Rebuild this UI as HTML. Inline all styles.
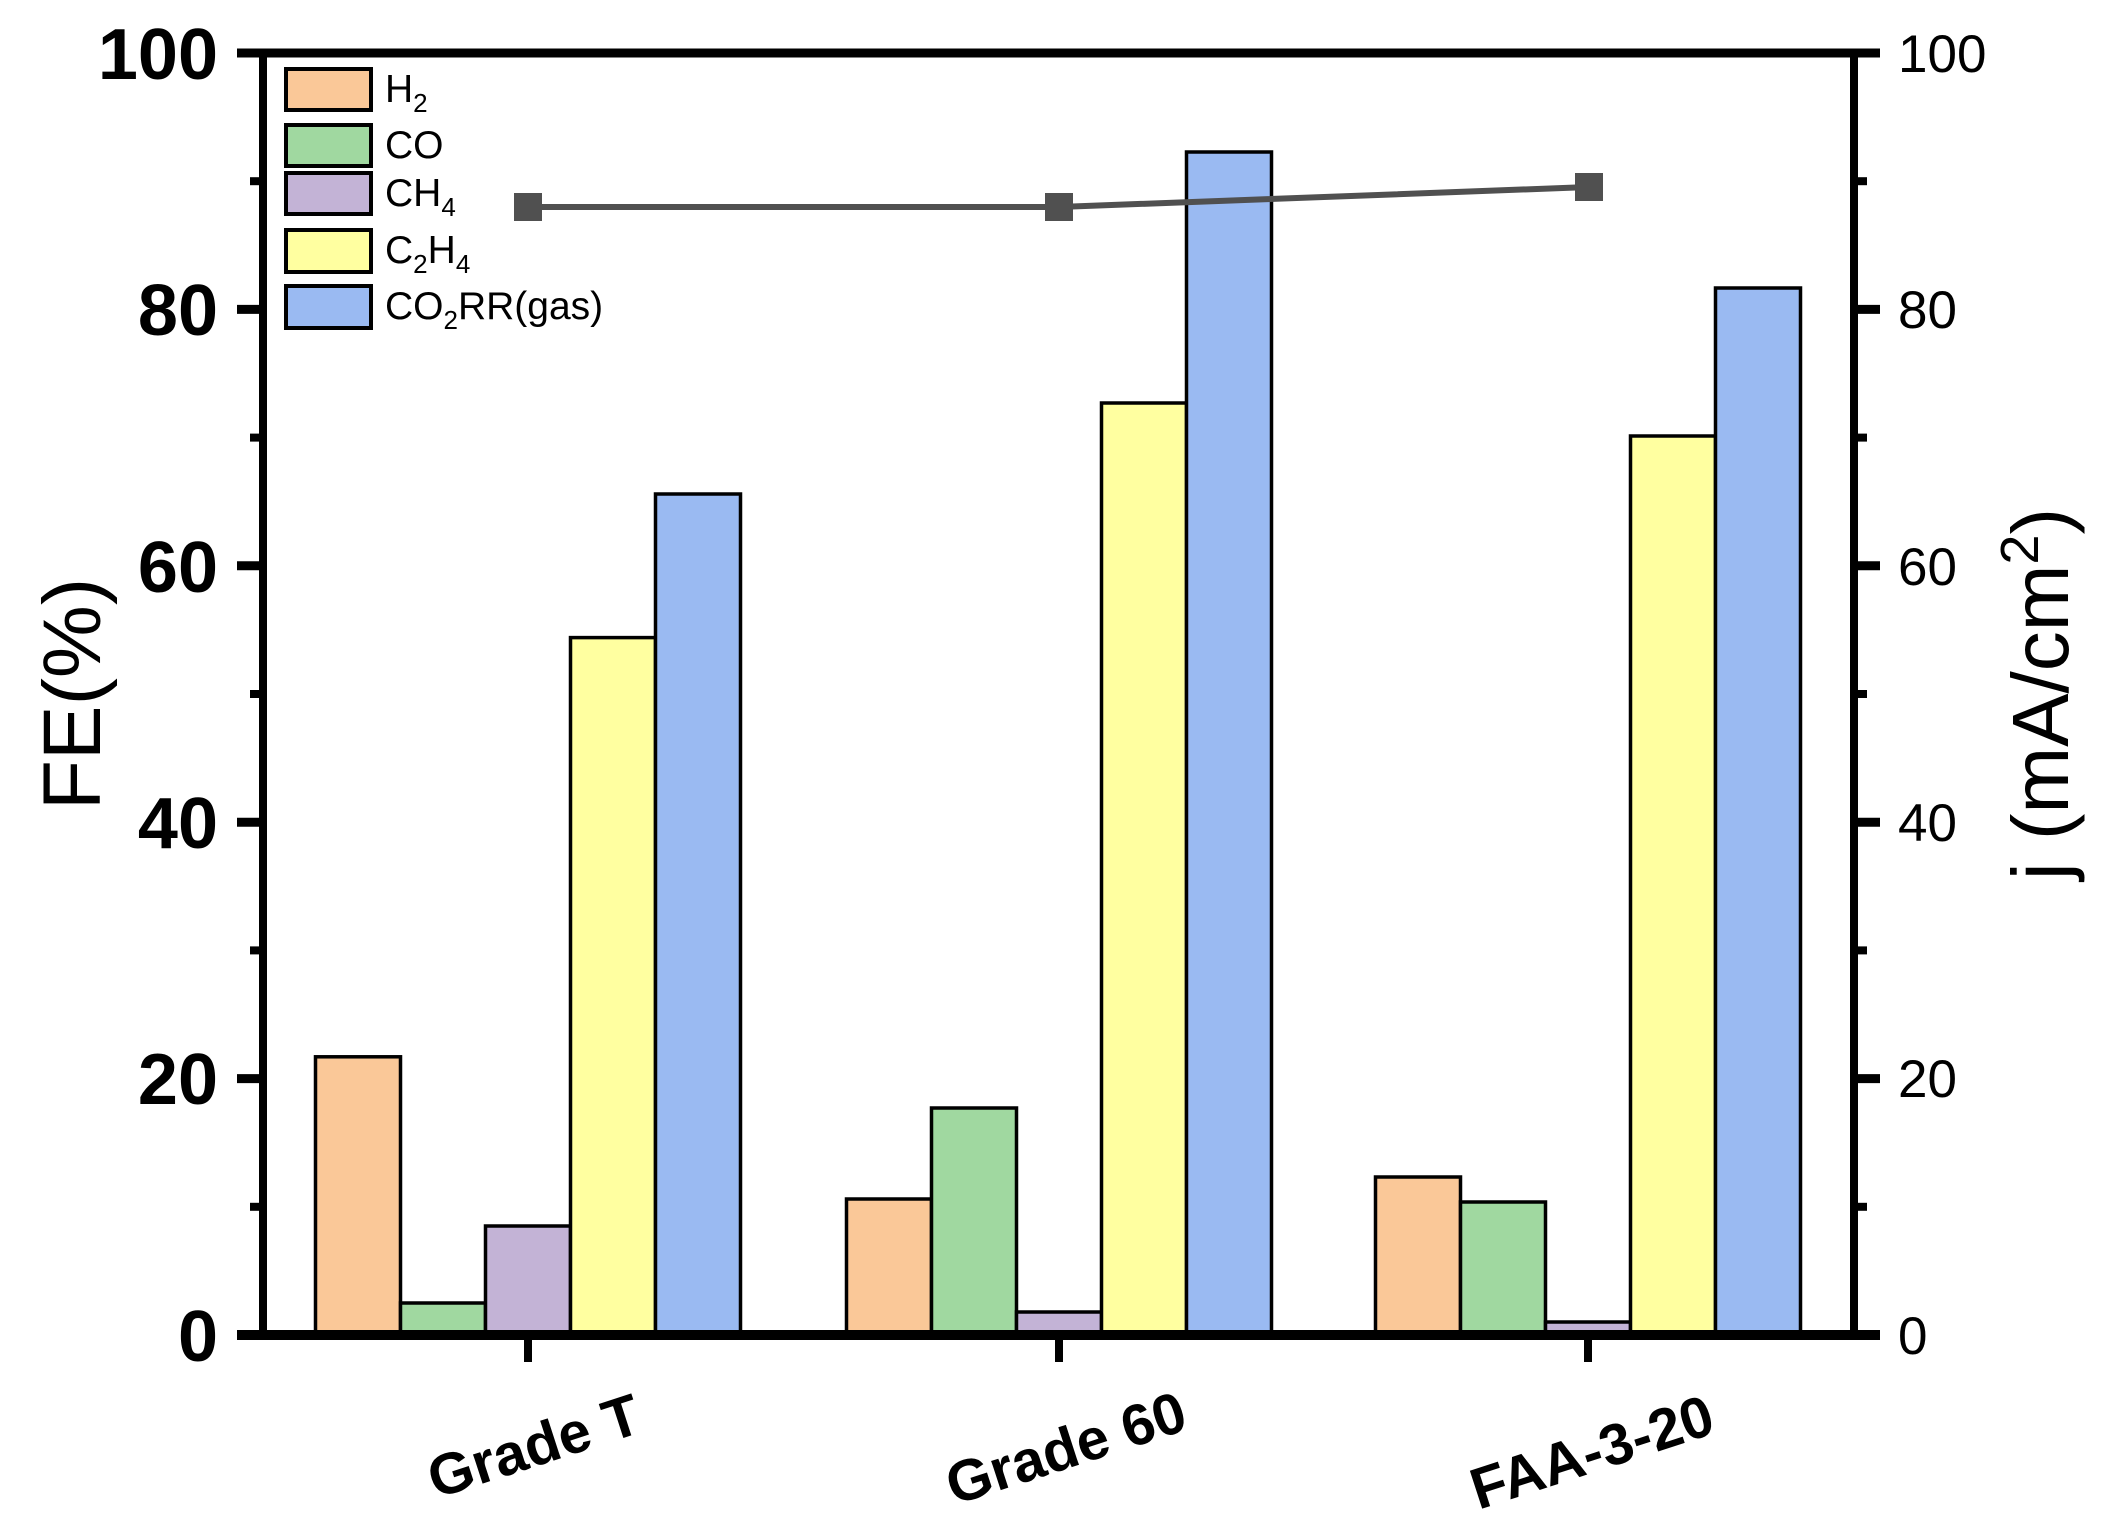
<!DOCTYPE html>
<html><head><meta charset="utf-8"><style>html,body{margin:0;padding:0;background:#fff}svg{display:block}</style></head>
<body>
<svg width="2102" height="1517" viewBox="0 0 2102 1517" xmlns="http://www.w3.org/2000/svg" font-family="'Liberation Sans', Arial, sans-serif">
<rect width="2102" height="1517" fill="#fff"/>
<g stroke="#000" stroke-width="3.5">
<rect x="315.5" y="1056.8" width="85" height="278.2" fill="#FAC898"/>
<rect x="400.5" y="1303" width="85" height="32" fill="#A0D8A0"/>
<rect x="485.5" y="1226" width="85" height="109" fill="#C3B3D6"/>
<rect x="570.5" y="637.6" width="85" height="697.4" fill="#FFFFA0"/>
<rect x="655.5" y="494" width="85" height="841" fill="#9ABAF2"/>
<rect x="846.5" y="1199" width="85" height="136" fill="#FAC898"/>
<rect x="931.5" y="1108" width="85" height="227" fill="#A0D8A0"/>
<rect x="1016.5" y="1312" width="85" height="23" fill="#C3B3D6"/>
<rect x="1101.5" y="403" width="85" height="932" fill="#FFFFA0"/>
<rect x="1186.5" y="152" width="85" height="1183" fill="#9ABAF2"/>
<rect x="1375.5" y="1177" width="85" height="158" fill="#FAC898"/>
<rect x="1460.5" y="1202" width="85" height="133" fill="#A0D8A0"/>
<rect x="1545.5" y="1322" width="85" height="13" fill="#C3B3D6"/>
<rect x="1630.5" y="436" width="85" height="899" fill="#FFFFA0"/>
<rect x="1715.5" y="288" width="85" height="1047" fill="#9ABAF2"/>
</g>
<polyline points="528,207 1059,207 1589,187" fill="none" stroke="#505050" stroke-width="6"/>
<rect x="514" y="193" width="28" height="28" fill="#505050"/>
<rect x="1045" y="193" width="28" height="28" fill="#505050"/>
<rect x="1575" y="173" width="28" height="28" fill="#505050"/>
<g stroke="#000">
<line x1="237" y1="53" x2="1880" y2="53" stroke-width="9"/>
<line x1="237" y1="1335" x2="1880" y2="1335" stroke-width="10"/>
<line x1="263" y1="49" x2="263" y2="1340" stroke-width="8"/>
<line x1="1854" y1="49" x2="1854" y2="1340" stroke-width="8"/>
<g stroke-width="9">
<line x1="237" y1="309.4" x2="263" y2="309.4"/><line x1="237" y1="565.8" x2="263" y2="565.8"/><line x1="237" y1="822.2" x2="263" y2="822.2"/><line x1="237" y1="1078.6" x2="263" y2="1078.6"/>
<line x1="1854" y1="309.4" x2="1880" y2="309.4"/><line x1="1854" y1="565.8" x2="1880" y2="565.8"/><line x1="1854" y1="822.2" x2="1880" y2="822.2"/><line x1="1854" y1="1078.6" x2="1880" y2="1078.6"/>
</g>
<g stroke-width="8">
<line x1="250" y1="181.2" x2="263" y2="181.2"/><line x1="250" y1="437.6" x2="263" y2="437.6"/><line x1="250" y1="694" x2="263" y2="694"/><line x1="250" y1="950.4" x2="263" y2="950.4"/><line x1="250" y1="1206.8" x2="263" y2="1206.8"/>
<line x1="1854" y1="181.2" x2="1867" y2="181.2"/><line x1="1854" y1="437.6" x2="1867" y2="437.6"/><line x1="1854" y1="694" x2="1867" y2="694"/><line x1="1854" y1="950.4" x2="1867" y2="950.4"/><line x1="1854" y1="1206.8" x2="1867" y2="1206.8"/>
<line x1="528" y1="1335" x2="528" y2="1362"/><line x1="1059" y1="1335" x2="1059" y2="1362"/><line x1="1588" y1="1335" x2="1588" y2="1362"/>
</g>
</g>
<g font-size="72" font-weight="bold" text-anchor="end">
<text x="218" y="79">100</text><text x="218" y="335">80</text><text x="218" y="592">60</text><text x="218" y="848">40</text><text x="218" y="1104">20</text><text x="218" y="1361">0</text>
</g>
<g font-size="53" text-anchor="start">
<text x="1898" y="72">100</text><text x="1898" y="328">80</text><text x="1898" y="585">60</text><text x="1898" y="841">40</text><text x="1898" y="1097">20</text><text x="1898" y="1354">0</text>
</g>
<text transform="translate(100,694) rotate(-90)" font-size="82" text-anchor="middle">FE(%)</text>
<text transform="translate(2068,694) rotate(-90)" font-size="80" text-anchor="middle">j (mA/cm<tspan dy="-30" font-size="54">2</tspan><tspan dy="30">)</tspan></text>
<g font-size="58" font-weight="bold" text-anchor="middle">
<text transform="translate(540,1465) rotate(-18)">Grade T</text>
<text transform="translate(1072,1467) rotate(-18)">Grade 60</text>
<text transform="translate(1598,1471) rotate(-18)">FAA-3-20</text>
</g>
<g stroke="#000" stroke-width="4">
<rect x="286" y="69" width="85" height="41" fill="#FAC898"/>
<rect x="286" y="125" width="85" height="41" fill="#A0D8A0"/>
<rect x="286" y="173" width="85" height="41" fill="#C3B3D6"/>
<rect x="286" y="230" width="85" height="42" fill="#FFFFA0"/>
<rect x="286" y="286" width="85" height="42" fill="#9ABAF2"/>
</g>
<g font-size="39">
<text x="385" y="102">H<tspan font-size="26" dy="10">2</tspan></text>
<text x="385" y="158">CO</text>
<text x="385" y="206">CH<tspan font-size="26" dy="10">4</tspan></text>
<text x="385" y="263">C<tspan font-size="26" dy="10">2</tspan><tspan dy="-10">H</tspan><tspan font-size="26" dy="10">4</tspan></text>
<text x="385" y="319">CO<tspan font-size="26" dy="10">2</tspan><tspan dy="-10">RR(gas)</tspan></text>
</g>
</svg>
</body></html>
